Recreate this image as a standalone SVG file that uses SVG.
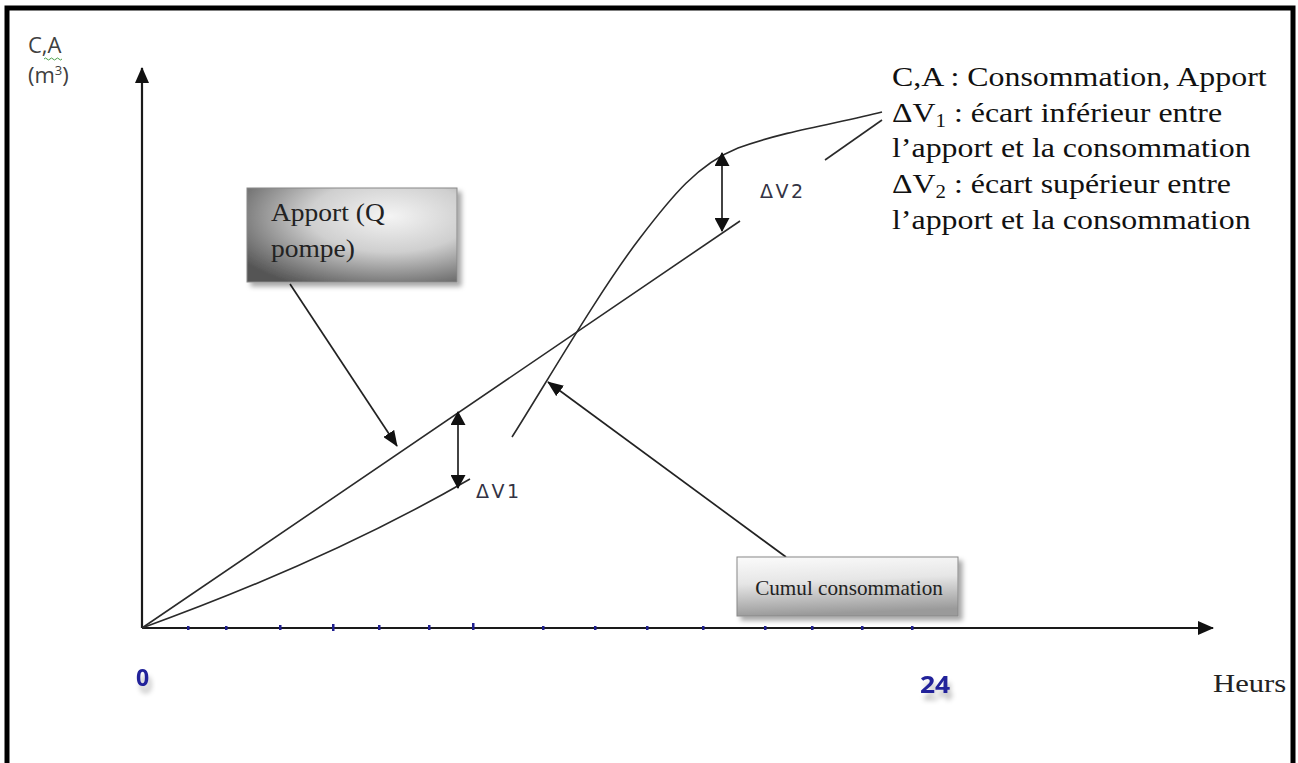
<svg xmlns="http://www.w3.org/2000/svg" width="1298" height="763" viewBox="0 0 1298 763">
  <style>
    .axis { stroke: #1a1a1a; stroke-width: 2.2; fill: none; }
    .curve { stroke: #2a2a2a; stroke-width: 1.6; fill: none; }
    .ptr { stroke: #222; stroke-width: 1.7; fill: none; }
    .sans { font-family: "Open Sans", "Liberation Sans", sans-serif; }
    .dv { font-family: "DejaVu Sans", "Liberation Sans", sans-serif; font-size: 19px; fill: #333344; letter-spacing: 2.5px; }
    .serif { font-family: "Liberation Serif", "Times New Roman", serif; fill: #222; }
    .tick { fill: #1f1f8f; }
    .num { font-family: "Open Sans", "Liberation Sans", sans-serif; font-weight: bold; font-size: 23px; fill: #22239a; }
    .legend { font-family: "Liberation Serif", "Times New Roman", serif; font-size: 27.5px; fill: #111; }
  </style>
  <defs>
    <marker id="tip" viewBox="0 0 16 13" refX="15" refY="6.5" markerWidth="16" markerHeight="13" markerUnits="userSpaceOnUse" orient="auto-start-reverse">
      <path d="M0,0 L16,6.5 L0,13 Z" fill="#111"/>
    </marker>
    <marker id="dtip" viewBox="0 0 14 15" refX="13" refY="7.5" markerWidth="14" markerHeight="15" markerUnits="userSpaceOnUse" orient="auto-start-reverse">
      <path d="M0,0 L14,7.5 L0,15 Z" fill="#111"/>
    </marker>
    <marker id="axtip" viewBox="0 0 16 14" refX="15" refY="7" markerWidth="16" markerHeight="14" markerUnits="userSpaceOnUse" orient="auto">
      <path d="M0,0 L16,7 L0,14 Z" fill="#111"/>
    </marker>
    <radialGradient id="gApport" cx="0.68" cy="0.3" r="0.85">
      <stop offset="0" stop-color="#f4f4f4"/>
      <stop offset="0.45" stop-color="#cfcfcf"/>
      <stop offset="1" stop-color="#555"/>
    </radialGradient>
    <linearGradient id="gCumul" x1="0" y1="0" x2="0.15" y2="1">
      <stop offset="0" stop-color="#fbfbfb"/>
      <stop offset="0.45" stop-color="#e6e6e6"/>
      <stop offset="1" stop-color="#9a9a9a"/>
    </linearGradient>
    <filter id="shadow" x="-10%" y="-10%" width="130%" height="140%">
      <feGaussianBlur in="SourceAlpha" stdDeviation="2.5"/>
      <feOffset dx="4" dy="4" result="b"/>
      <feFlood flood-color="#000" flood-opacity="0.35"/>
      <feComposite in2="b" operator="in"/>
      <feMerge><feMergeNode/><feMergeNode in="SourceGraphic"/></feMerge>
    </filter>
    <filter id="soft" x="-30%" y="-30%" width="180%" height="200%">
      <feGaussianBlur in="SourceAlpha" stdDeviation="2.5"/>
      <feOffset dx="3" dy="7" result="b"/>
      <feFlood flood-color="#000" flood-opacity="0.25"/>
      <feComposite in2="b" operator="in"/>
      <feMerge><feMergeNode/><feMergeNode in="SourceGraphic"/></feMerge>
    </filter>
  </defs>

  <rect width="1298" height="763" fill="#fff"/>
  <!-- outer frame, open at the bottom edge of the page -->
  <rect x="7" y="8" width="1286" height="790" fill="none" stroke="#000" stroke-width="5"/>

  <!-- axes -->
  <g id="axes">
    <line class="axis" x1="142" y1="628" x2="142" y2="68" marker-end="url(#axtip)"/>
    <line class="axis" x1="142" y1="628" x2="1213" y2="628" marker-end="url(#axtip)"/>
    <g id="ticks" class="tick">
      <rect x="187" y="626" width="2.5" height="4"/>
      <rect x="225" y="626" width="2.5" height="4"/>
      <rect x="279" y="625" width="2.5" height="5"/>
      <rect x="332" y="624" width="2.5" height="7"/>
      <rect x="378" y="625" width="2.5" height="5"/>
      <rect x="428" y="625" width="2.5" height="5"/>
      <rect x="472" y="623" width="2.5" height="7"/>
      <rect x="542" y="626" width="2.5" height="4"/>
      <rect x="594" y="626" width="2.5" height="4"/>
      <rect x="646" y="626" width="2.5" height="4"/>
      <rect x="702" y="626" width="2.5" height="4"/>
      <rect x="764" y="626" width="2.5" height="4"/>
      <rect x="811" y="626" width="2.5" height="4"/>
      <rect x="861" y="626" width="2.5" height="4"/>
      <rect x="911" y="626" width="2.5" height="4"/>
    </g>
    <text class="num" x="136" y="686" filter="url(#soft)">0</text>
    <text class="num" transform="translate(920,693) scale(1.15,1)" filter="url(#soft)">24</text>
    <text class="serif" transform="translate(1213,692) scale(1.18,1)" font-size="26">Heurs</text>
    <text class="sans" x="28" y="53" font-size="22" fill="#404040">C,A</text>
    <path d="M44,59 q1.5,-2 3,0 t3,0 t3,0 t3,0 t3,0 t3,0" fill="none" stroke="#4aa04a" stroke-width="1"/>
    <text class="sans" x="28" y="83" font-size="22" fill="#404040">(m<tspan font-size="13" dy="-8">3</tspan><tspan dy="8">)</tspan></text>
  </g>

  <!-- curves and gap markers -->
  <g id="connectors">
    <!-- pump supply (straight cumulative line) -->
    <line class="curve" x1="142" y1="628" x2="740" y2="221"/>
    <line class="curve" x1="825" y1="160" x2="882" y2="120"/>
    <!-- cumulative consumption -->
    <path class="curve" d="M142,628 Q330,560 470,479"/>
    <path class="curve" d="M512,437 C545,385 600,290 640,238 C672,196 698,164 738,148 C788,130 840,123 882,112"/>
    <!-- ΔV arrows -->
    <line class="ptr" x1="458" y1="412" x2="458" y2="488" marker-start="url(#dtip)" marker-end="url(#dtip)" stroke-width="2"/>
    <line class="ptr" x1="722" y1="153" x2="722" y2="231" marker-start="url(#dtip)" marker-end="url(#dtip)" stroke-width="2"/>
    <!-- callout pointers -->
    <line class="ptr" x1="290" y1="284" x2="397" y2="446" marker-end="url(#tip)"/>
    <line class="ptr" x1="786" y1="557" x2="548" y2="382" marker-end="url(#tip)"/>
  </g>

  <g id="dv1-label">
    <text class="dv" x="476" y="498">ΔV1</text>
  </g>
  <g id="dv2-label">
    <text class="dv" x="760" y="198">ΔV2</text>
  </g>

  <g id="apport-box">
    <rect x="247" y="188" width="210" height="94" fill="url(#gApport)" stroke="#888" stroke-width="1" filter="url(#shadow)"/>
    <text class="serif" transform="translate(271,221) scale(1.1,1)" font-size="25">Apport (Q</text>
    <text class="serif" transform="translate(271,257) scale(1.1,1)" font-size="25">pompe)</text>
  </g>

  <g id="cumul-box">
    <rect x="737" y="557" width="221" height="59" fill="url(#gCumul)" stroke="#888" stroke-width="1" filter="url(#shadow)"/>
    <text class="serif" transform="translate(849,595) scale(1.06,1)" font-size="20" text-anchor="middle">Cumul consommation</text>
  </g>

  <g id="legend">
    <text class="legend" transform="translate(892,86) scale(1.16,1)">C,A : Consommation, Apport</text>
    <text class="legend" transform="translate(892,122) scale(1.16,1)">ΔV<tspan font-size="18" dy="5">1</tspan><tspan dy="-5"> : écart inférieur entre</tspan></text>
    <text class="legend" transform="translate(892,157) scale(1.16,1)">l’apport et la consommation</text>
    <text class="legend" transform="translate(892,193) scale(1.16,1)">ΔV<tspan font-size="18" dy="5">2</tspan><tspan dy="-5"> : écart supérieur entre</tspan></text>
    <text class="legend" transform="translate(892,229) scale(1.16,1)">l’apport et la consommation</text>
  </g>
</svg>
